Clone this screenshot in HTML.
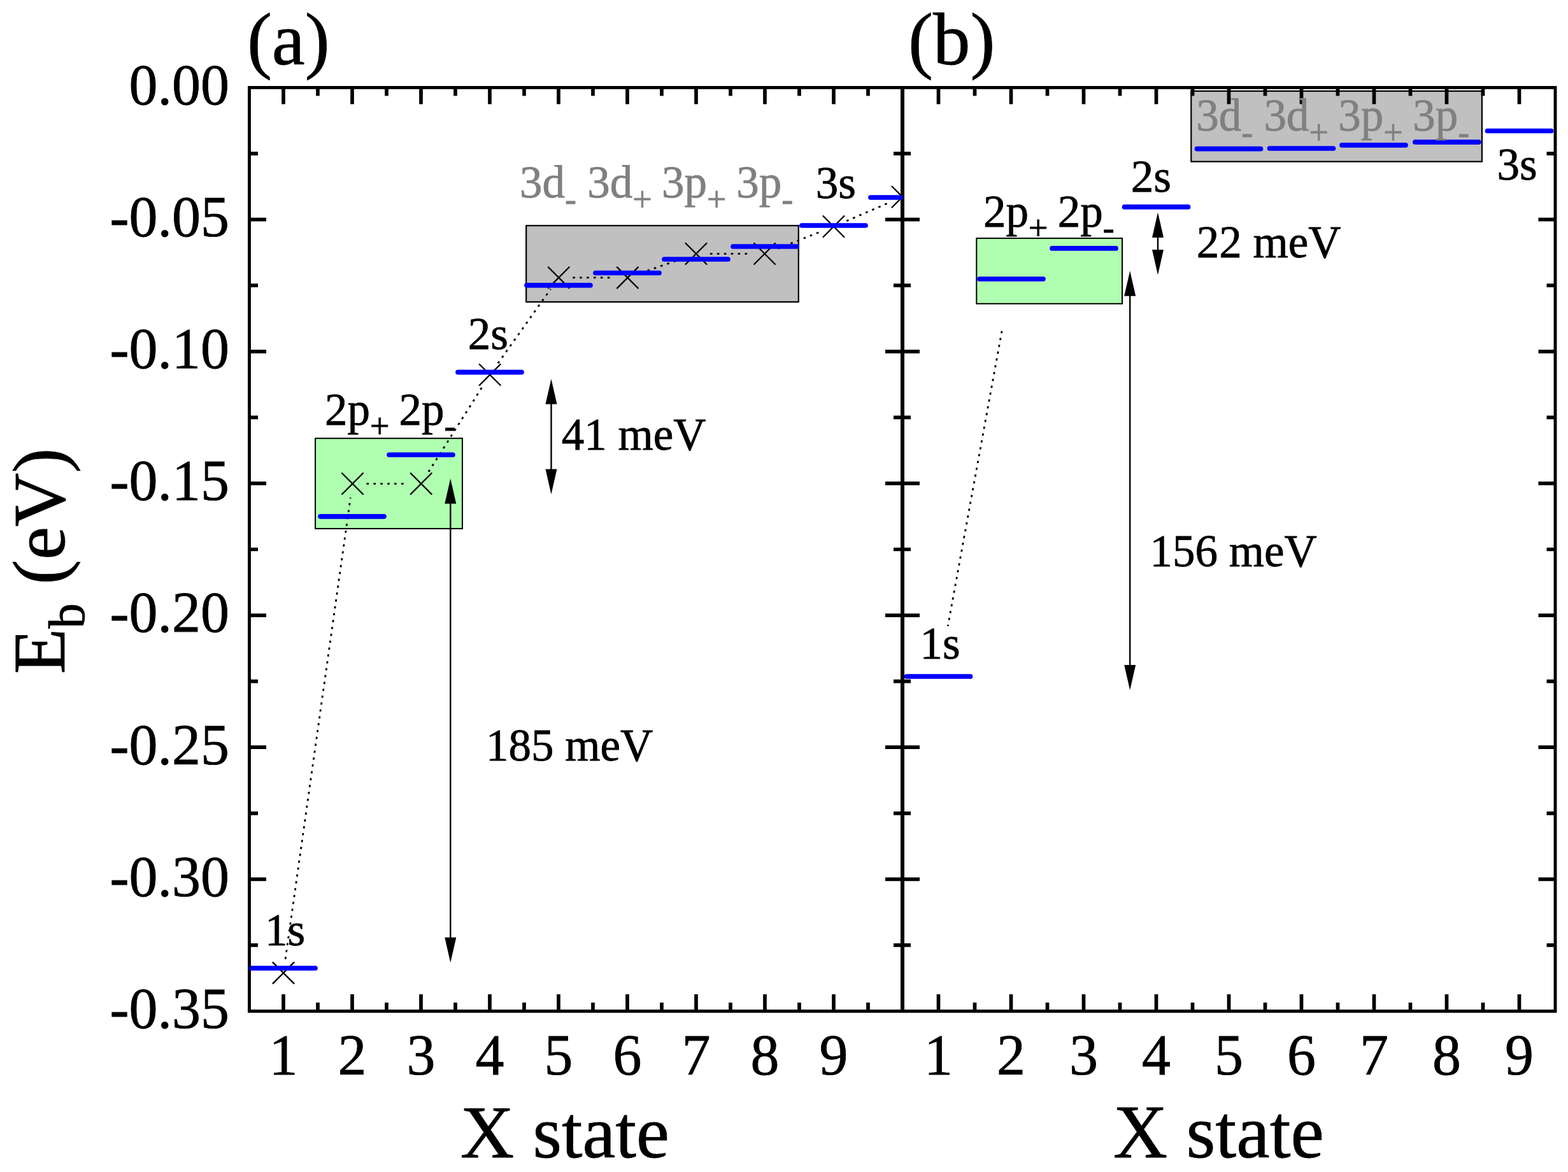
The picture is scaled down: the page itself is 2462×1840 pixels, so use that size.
<!DOCTYPE html>
<html><head><meta charset="utf-8"><title>Exciton binding energies</title>
<style>html,body{margin:0;padding:0;background:#fff;width:2462px;height:1840px;overflow:hidden}svg{display:block}</style>
</head><body>
<svg width="2462" height="1840" viewBox="0 0 2462 1840" font-family="'Liberation Serif','Times New Roman',serif">
<defs>
<clipPath id="clipA"><rect x="391.5" y="137.5" width="1025.5" height="1450.0"/></clipPath>
<clipPath id="clipB"><rect x="1417.0" y="137.5" width="1025.0" height="1450.0"/></clipPath>
</defs>
<rect width="2462" height="1840" fill="#fff"/>
<rect x="495.10" y="688.20" width="230.90" height="141.70" fill="#b0ffb0" stroke="#000" stroke-width="2.0"/>
<rect x="826.20" y="354.20" width="427.60" height="119.80" fill="#c0c0c0" stroke="#000" stroke-width="2.2"/>
<rect x="1533.30" y="374.10" width="228.70" height="102.70" fill="#b0ffb0" stroke="#000" stroke-width="2.0"/>
<rect x="1870.30" y="143.00" width="456.60" height="110.70" fill="#c0c0c0" stroke="#000" stroke-width="2.2"/>
<path d="M391.5,137.5H2442.0V1587.5H391.5Z" fill="none" stroke="#000" stroke-width="4.9" stroke-linecap="square"/>
<line x1="1417.0" y1="137.5" x2="1417.0" y2="1587.5" stroke="#000" stroke-width="6"/>
<path d="M445.0,137.5V163.5M445.0,1587.5V1561.0M499.0,137.5V150.5M499.0,1587.5V1574.0M553.0,137.5V163.5M553.0,1587.5V1561.0M607.0,137.5V150.5M607.0,1587.5V1574.0M661.0,137.5V163.5M661.0,1587.5V1561.0M715.0,137.5V150.5M715.0,1587.5V1574.0M769.0,137.5V163.5M769.0,1587.5V1561.0M823.0,137.5V150.5M823.0,1587.5V1574.0M877.0,137.5V163.5M877.0,1587.5V1561.0M931.0,137.5V150.5M931.0,1587.5V1574.0M985.0,137.5V163.5M985.0,1587.5V1561.0M1039.0,137.5V150.5M1039.0,1587.5V1574.0M1093.0,137.5V163.5M1093.0,1587.5V1561.0M1147.0,137.5V150.5M1147.0,1587.5V1574.0M1201.0,137.5V163.5M1201.0,1587.5V1561.0M1255.0,137.5V150.5M1255.0,1587.5V1574.0M1309.0,137.5V163.5M1309.0,1587.5V1561.0M1363.0,137.5V150.5M1363.0,1587.5V1574.0M1473.5,137.5V163.5M1473.5,1587.5V1561.0M1530.5,137.5V150.5M1530.5,1587.5V1574.0M1587.5,137.5V163.5M1587.5,1587.5V1561.0M1644.5,137.5V150.5M1644.5,1587.5V1574.0M1701.5,137.5V163.5M1701.5,1587.5V1561.0M1758.5,137.5V150.5M1758.5,1587.5V1574.0M1815.5,137.5V163.5M1815.5,1587.5V1561.0M1872.5,137.5V150.5M1872.5,1587.5V1574.0M1929.5,137.5V163.5M1929.5,1587.5V1561.0M1986.5,137.5V150.5M1986.5,1587.5V1574.0M2043.5,137.5V163.5M2043.5,1587.5V1561.0M2100.5,137.5V150.5M2100.5,1587.5V1574.0M2157.5,137.5V163.5M2157.5,1587.5V1561.0M2214.5,137.5V150.5M2214.5,1587.5V1574.0M2271.5,137.5V163.5M2271.5,1587.5V1561.0M2328.5,137.5V150.5M2328.5,1587.5V1574.0M2385.5,137.5V163.5M2385.5,1587.5V1561.0M391.5,241.1H405.0M1414.0,241.1H1403.0M1420.0,241.1H1430.0M2442.0,241.1H2428.5M391.5,344.6H418.0M1414.0,344.6H1390.0M1420.0,344.6H1444.0M2442.0,344.6H2415.5M391.5,448.2H405.0M1414.0,448.2H1403.0M1420.0,448.2H1430.0M2442.0,448.2H2428.5M391.5,551.8H418.0M1414.0,551.8H1390.0M1420.0,551.8H1444.0M2442.0,551.8H2415.5M391.5,655.4H405.0M1414.0,655.4H1403.0M1420.0,655.4H1430.0M2442.0,655.4H2428.5M391.5,758.9H418.0M1414.0,758.9H1390.0M1420.0,758.9H1444.0M2442.0,758.9H2415.5M391.5,862.5H405.0M1414.0,862.5H1403.0M1420.0,862.5H1430.0M2442.0,862.5H2428.5M391.5,966.1H418.0M1414.0,966.1H1390.0M1420.0,966.1H1444.0M2442.0,966.1H2415.5M391.5,1069.6H405.0M1414.0,1069.6H1403.0M1420.0,1069.6H1430.0M2442.0,1069.6H2428.5M391.5,1173.2H418.0M1414.0,1173.2H1390.0M1420.0,1173.2H1444.0M2442.0,1173.2H2415.5M391.5,1276.8H405.0M1414.0,1276.8H1403.0M1420.0,1276.8H1430.0M2442.0,1276.8H2428.5M391.5,1380.4H418.0M1414.0,1380.4H1390.0M1420.0,1380.4H1444.0M2442.0,1380.4H2415.5M391.5,1483.9H405.0M1414.0,1483.9H1403.0M1420.0,1483.9H1430.0M2442.0,1483.9H2428.5" stroke="#000" stroke-width="5.7" fill="none"/>
<g clip-path="url(#clipA)">
<line x1="448.1" y1="1505.7" x2="550.4" y2="781.2" stroke="#000" stroke-width="2.8" stroke-dasharray="3.6 7.3" fill="none"/>
<line x1="575.5" y1="759.4" x2="639.2" y2="759.4" stroke="#000" stroke-width="2.8" stroke-dasharray="3.6 7.3" fill="none"/>
<line x1="672.9" y1="740.8" x2="757.5" y2="607.0" stroke="#000" stroke-width="2.8" stroke-dasharray="3.6 7.3" fill="none"/>
<line x1="781.9" y1="570.4" x2="864.6" y2="453.8" stroke="#000" stroke-width="2.8" stroke-dasharray="3.6 7.3" fill="none"/>
<line x1="899.3" y1="435.8" x2="963.4" y2="436.0" stroke="#000" stroke-width="2.8" stroke-dasharray="3.6 7.3" fill="none"/>
<line x1="1006.2" y1="428.7" x2="1072.2" y2="405.7" stroke="#000" stroke-width="2.8" stroke-dasharray="3.6 7.3" fill="none"/>
<line x1="1115.0" y1="398.4" x2="1178.6" y2="398.4" stroke="#000" stroke-width="2.8" stroke-dasharray="3.6 7.3" fill="none"/>
<line x1="1221.1" y1="390.3" x2="1288.5" y2="363.7" stroke="#000" stroke-width="2.8" stroke-dasharray="3.6 7.3" fill="none"/>
<line x1="1329.2" y1="346.9" x2="1396.8" y2="317.8" stroke="#000" stroke-width="2.8" stroke-dasharray="3.6 7.3" fill="none"/>
</g>
<line x1="1573.1" y1="519.7" x2="1488.3" y2="982.9" stroke="#000" stroke-width="2.8" stroke-dasharray="3.6 7.3" fill="none"/>
<g clip-path="url(#clipA)" stroke="#000" stroke-width="2.3" fill="none">
<path d="M427.9,1510.4L462.1,1544.6M427.9,1544.6L462.1,1510.4"/>
<path d="M536.4,742.3L570.6,776.5M536.4,776.5L570.6,742.3"/>
<path d="M644.1,742.3L678.3,776.5M644.1,776.5L678.3,742.3"/>
<path d="M752.1,571.3L786.3,605.5M752.1,605.5L786.3,571.3"/>
<path d="M860.2,418.7L894.4,452.9M860.2,452.9L894.4,418.7"/>
<path d="M968.3,418.9L1002.5,453.1M968.3,453.1L1002.5,418.9"/>
<path d="M1075.9,381.3L1110.1,415.5M1075.9,415.5L1110.1,381.3"/>
<path d="M1183.5,381.3L1217.7,415.5M1183.5,415.5L1217.7,381.3"/>
<path d="M1291.9,338.5L1326.1,372.7M1291.9,372.7L1326.1,338.5"/>
<path d="M1399.9,292.0L1434.1,326.2M1399.9,326.2L1434.1,292.0"/>
</g>
<g clip-path="url(#clipA)" stroke="#0000ff" stroke-width="7.7" stroke-linecap="round" fill="none">
<line x1="395.0" y1="1520.0" x2="495.0" y2="1520.0"/>
<line x1="503.0" y1="810.8" x2="603.0" y2="810.8"/>
<line x1="611.0" y1="714.0" x2="711.0" y2="714.0"/>
<line x1="719.0" y1="584.3" x2="819.0" y2="584.3"/>
<line x1="827.0" y1="447.9" x2="927.0" y2="447.9"/>
<line x1="935.0" y1="428.5" x2="1035.0" y2="428.5"/>
<line x1="1043.0" y1="407.0" x2="1143.0" y2="407.0"/>
<line x1="1151.0" y1="387.0" x2="1251.0" y2="387.0"/>
<line x1="1259.0" y1="354.0" x2="1359.0" y2="354.0"/>
<line x1="1367.0" y1="310.0" x2="1467.0" y2="310.0"/>
</g>
<g clip-path="url(#clipB)" stroke="#0000ff" stroke-width="7.7" stroke-linecap="round" fill="none">
<line x1="1423.5" y1="1062.0" x2="1523.5" y2="1062.0"/>
<line x1="1538.0" y1="438.0" x2="1638.0" y2="438.0"/>
<line x1="1652.0" y1="389.9" x2="1752.0" y2="389.9"/>
<line x1="1765.5" y1="324.9" x2="1865.5" y2="324.9"/>
<line x1="1879.5" y1="233.7" x2="1979.5" y2="233.7"/>
<line x1="1993.5" y1="233.0" x2="2093.5" y2="233.0"/>
<line x1="2107.0" y1="227.9" x2="2207.0" y2="227.9"/>
<line x1="2221.9" y1="223.1" x2="2321.9" y2="223.1"/>
<line x1="2335.5" y1="205.5" x2="2435.5" y2="205.5"/>
</g>
<line x1="865.5" y1="633.4" x2="865.5" y2="737.5" stroke="#000" stroke-width="2.4"/>
<path d="M865.5,594.9L856.50,634.4L874.50,634.4Z" fill="#000"/>
<path d="M865.5,776.0L856.50,736.5L874.50,736.5Z" fill="#000"/>
<line x1="707.3" y1="789.8" x2="707.3" y2="1472.8" stroke="#000" stroke-width="2.4"/>
<path d="M707.3,751.3L698.30,790.8L716.30,790.8Z" fill="#000"/>
<path d="M707.3,1511.3L698.30,1471.8L716.30,1471.8Z" fill="#000"/>
<line x1="1818.0" y1="372.1" x2="1818.0" y2="393.0" stroke="#000" stroke-width="2.4"/>
<path d="M1818.0,333.6L1809.00,373.1L1827.00,373.1Z" fill="#000"/>
<path d="M1818.0,431.5L1809.00,392.0L1827.00,392.0Z" fill="#000"/>
<line x1="1774.2" y1="463.8" x2="1774.2" y2="1044.9" stroke="#000" stroke-width="2.4"/>
<path d="M1774.2,425.3L1765.20,464.8L1783.20,464.8Z" fill="#000"/>
<path d="M1774.2,1083.4L1765.20,1043.9L1783.20,1043.9Z" fill="#000"/>
<text x="359.9" y="163.8" font-size="90" text-anchor="end" fill="#000" stroke="#000" stroke-width="0.8" >0.00</text>
<text x="359.9" y="370.9" font-size="90" text-anchor="end" fill="#000" stroke="#000" stroke-width="0.8" >-0.05</text>
<text x="359.9" y="578.1" font-size="90" text-anchor="end" fill="#000" stroke="#000" stroke-width="0.8" >-0.10</text>
<text x="359.9" y="785.2" font-size="90" text-anchor="end" fill="#000" stroke="#000" stroke-width="0.8" >-0.15</text>
<text x="359.9" y="992.4" font-size="90" text-anchor="end" fill="#000" stroke="#000" stroke-width="0.8" >-0.20</text>
<text x="359.9" y="1199.5" font-size="90" text-anchor="end" fill="#000" stroke="#000" stroke-width="0.8" >-0.25</text>
<text x="359.9" y="1406.7" font-size="90" text-anchor="end" fill="#000" stroke="#000" stroke-width="0.8" >-0.30</text>
<text x="359.9" y="1613.8" font-size="90" text-anchor="end" fill="#000" stroke="#000" stroke-width="0.8" >-0.35</text>
<text x="445.0" y="1687.0" font-size="90" text-anchor="middle" fill="#000" stroke="#000" stroke-width="0.8" >1</text>
<text x="1473.5" y="1687.0" font-size="90" text-anchor="middle" fill="#000" stroke="#000" stroke-width="0.8" >1</text>
<text x="553.0" y="1687.0" font-size="90" text-anchor="middle" fill="#000" stroke="#000" stroke-width="0.8" >2</text>
<text x="1587.5" y="1687.0" font-size="90" text-anchor="middle" fill="#000" stroke="#000" stroke-width="0.8" >2</text>
<text x="661.0" y="1687.0" font-size="90" text-anchor="middle" fill="#000" stroke="#000" stroke-width="0.8" >3</text>
<text x="1701.5" y="1687.0" font-size="90" text-anchor="middle" fill="#000" stroke="#000" stroke-width="0.8" >3</text>
<text x="769.0" y="1687.0" font-size="90" text-anchor="middle" fill="#000" stroke="#000" stroke-width="0.8" >4</text>
<text x="1815.5" y="1687.0" font-size="90" text-anchor="middle" fill="#000" stroke="#000" stroke-width="0.8" >4</text>
<text x="877.0" y="1687.0" font-size="90" text-anchor="middle" fill="#000" stroke="#000" stroke-width="0.8" >5</text>
<text x="1929.5" y="1687.0" font-size="90" text-anchor="middle" fill="#000" stroke="#000" stroke-width="0.8" >5</text>
<text x="985.0" y="1687.0" font-size="90" text-anchor="middle" fill="#000" stroke="#000" stroke-width="0.8" >6</text>
<text x="2043.5" y="1687.0" font-size="90" text-anchor="middle" fill="#000" stroke="#000" stroke-width="0.8" >6</text>
<text x="1093.0" y="1687.0" font-size="90" text-anchor="middle" fill="#000" stroke="#000" stroke-width="0.8" >7</text>
<text x="2157.5" y="1687.0" font-size="90" text-anchor="middle" fill="#000" stroke="#000" stroke-width="0.8" >7</text>
<text x="1201.0" y="1687.0" font-size="90" text-anchor="middle" fill="#000" stroke="#000" stroke-width="0.8" >8</text>
<text x="2271.5" y="1687.0" font-size="90" text-anchor="middle" fill="#000" stroke="#000" stroke-width="0.8" >8</text>
<text x="1309.0" y="1687.0" font-size="90" text-anchor="middle" fill="#000" stroke="#000" stroke-width="0.8" >9</text>
<text x="2385.5" y="1687.0" font-size="90" text-anchor="middle" fill="#000" stroke="#000" stroke-width="0.8" >9</text>
<text x="722.7" y="1817.4" font-size="117" text-anchor="start" fill="#000" stroke="#000" stroke-width="0.8" >X state</text>
<text x="1747.9" y="1817.1" font-size="118" text-anchor="start" fill="#000" stroke="#000" stroke-width="0.8" >X state</text>
<text x="387.9" y="101.2" font-size="117" text-anchor="start" fill="#000" stroke="#000" stroke-width="0.8" >(a)</text>
<text x="1426.1" y="101.4" font-size="117" text-anchor="start" fill="#000" stroke="#000" stroke-width="0.8" >(b)</text>
<text transform="translate(100.9,1058.3) rotate(-90)" font-size="117" stroke="#000" stroke-width="0.8">E<tspan font-size="79.5" dy="31">b</tspan><tspan dy="-31"> (eV)</tspan></text>
<text x="415.9" y="1483.8" font-size="71" fill="#000" stroke="#000" stroke-width="0.8"><tspan>1s</tspan></text>
<text x="509.9" y="666.7" font-size="71" fill="#000" stroke="#000" stroke-width="0.8"><tspan x="509.9">2p</tspan><tspan font-size="54" dy="20.5">+</tspan><tspan x="626.6" dy="-20.5">2p</tspan><tspan font-size="54" dy="20.5">-</tspan></text>
<text x="734.7" y="547.8" font-size="71" fill="#000" stroke="#000" stroke-width="0.8"><tspan>2s</tspan></text>
<text x="816.0" y="310.2" font-size="71" fill="#808080" stroke="#808080" stroke-width="0.8"><tspan x="816.0">3d</tspan><tspan font-size="54" dy="20.5">-</tspan><tspan x="922.3" dy="-20.5">3d</tspan><tspan font-size="54" dy="20.5">+</tspan><tspan x="1039.1" dy="-20.5">3p</tspan><tspan font-size="54" dy="20.5">+</tspan><tspan x="1156.3" dy="-20.5">3p</tspan><tspan font-size="54" dy="20.5">-</tspan></text>
<text x="1280.8" y="311.2" font-size="71" fill="#000" stroke="#000" stroke-width="0.8"><tspan>3s</tspan></text>
<text x="881.8" y="705.9" font-size="71" fill="#000" stroke="#000" stroke-width="0.8"><tspan>41 meV</tspan></text>
<text x="763.0" y="1193.7" font-size="71" fill="#000" stroke="#000" stroke-width="0.8"><tspan>185 meV</tspan></text>
<text x="1444.6" y="1033.9" font-size="71" fill="#000" stroke="#000" stroke-width="0.8"><tspan>1s</tspan></text>
<text x="1544.0" y="355.8" font-size="71" fill="#000" stroke="#000" stroke-width="0.8"><tspan x="1544.0">2p</tspan><tspan font-size="54" dy="20.5">+</tspan><tspan x="1660.8" dy="-20.5">2p</tspan><tspan font-size="54" dy="20.5">-</tspan></text>
<text x="1775.8" y="301.0" font-size="71" fill="#000" stroke="#000" stroke-width="0.8"><tspan>2s</tspan></text>
<text x="1878.3" y="205.2" font-size="71" fill="#808080" stroke="#808080" stroke-width="0.8"><tspan x="1878.3">3d</tspan><tspan font-size="54" dy="20.5">-</tspan><tspan x="1984.4" dy="-20.5">3d</tspan><tspan font-size="54" dy="20.5">+</tspan><tspan x="2101.3" dy="-20.5">3p</tspan><tspan font-size="54" dy="20.5">+</tspan><tspan x="2218.2" dy="-20.5">3p</tspan><tspan font-size="54" dy="20.5">-</tspan></text>
<text x="2350.6" y="282.0" font-size="71" fill="#000" stroke="#000" stroke-width="0.8"><tspan>3s</tspan></text>
<text x="1878.8" y="404.1" font-size="71" fill="#000" stroke="#000" stroke-width="0.8"><tspan>22 meV</tspan></text>
<text x="1805.6" y="888.6" font-size="71" fill="#000" stroke="#000" stroke-width="0.8"><tspan>156 meV</tspan></text>
</svg>
</body></html>
